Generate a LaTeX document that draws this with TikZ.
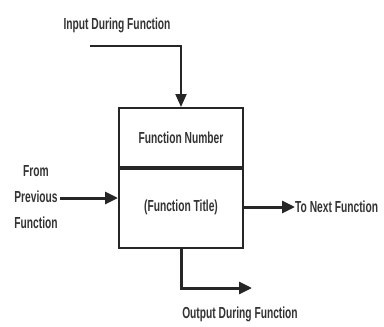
\documentclass[tikz,border=0pt]{standalone}
\usepackage{fontspec}
\setmainfont{Liberation Sans}[FakeStretch=0.64]
\usetikzlibrary{arrows.meta}
\begin{document}
\begin{tikzpicture}[x=1pt,y=-1pt,
  lbl/.style={font=\bfseries\fontsize{16}{17}\selectfont,text=black!80,inner sep=0pt},
  conn/.style={line width=3pt,-{Triangle[length=13pt,width=12pt]},black!85},
  thin/.style={line width=2pt,-{Triangle[length=13pt,width=11pt]},black!85},
  boxline/.style={line width=2pt,black!85}]
\useasboundingbox (0,0) rectangle (384,327);
% box
\node[boxline,draw,minimum width=124pt,minimum height=59pt,inner sep=0pt,anchor=north west,lbl] (num) at (118,107) {Function Number};
\node[boxline,draw,minimum width=124pt,minimum height=81pt,inner sep=0pt,anchor=north west,lbl] (title) at (118,166) {(Function Title)};
\draw[line width=3pt,black!85] (num.south west) -- (num.south east);
% labels
\node[lbl] (inlbl) at (117,25) {Input During Function};
\node[lbl,align=center] (prev) at (36,197) {From\\[9pt]Previous\\[9pt]Function};
\node[lbl,anchor=west] (next) at (295,207) {To Next Function};
\node[lbl] (outlbl) at (240,314) {Output During Function};
% coordinates
\coordinate (instart) at (90,46);
\coordinate (prevend) at (60,198);
\coordinate (outend) at (252,288);
% connectors
\draw[thin] (instart) -| (num.north);
\draw[conn] (prevend) -- (prevend -| title.west);
\draw[conn] (title.east |- next.west) -- (next.west);
\draw[conn] (title.south) |- (outend);
\end{tikzpicture}
\end{document}
